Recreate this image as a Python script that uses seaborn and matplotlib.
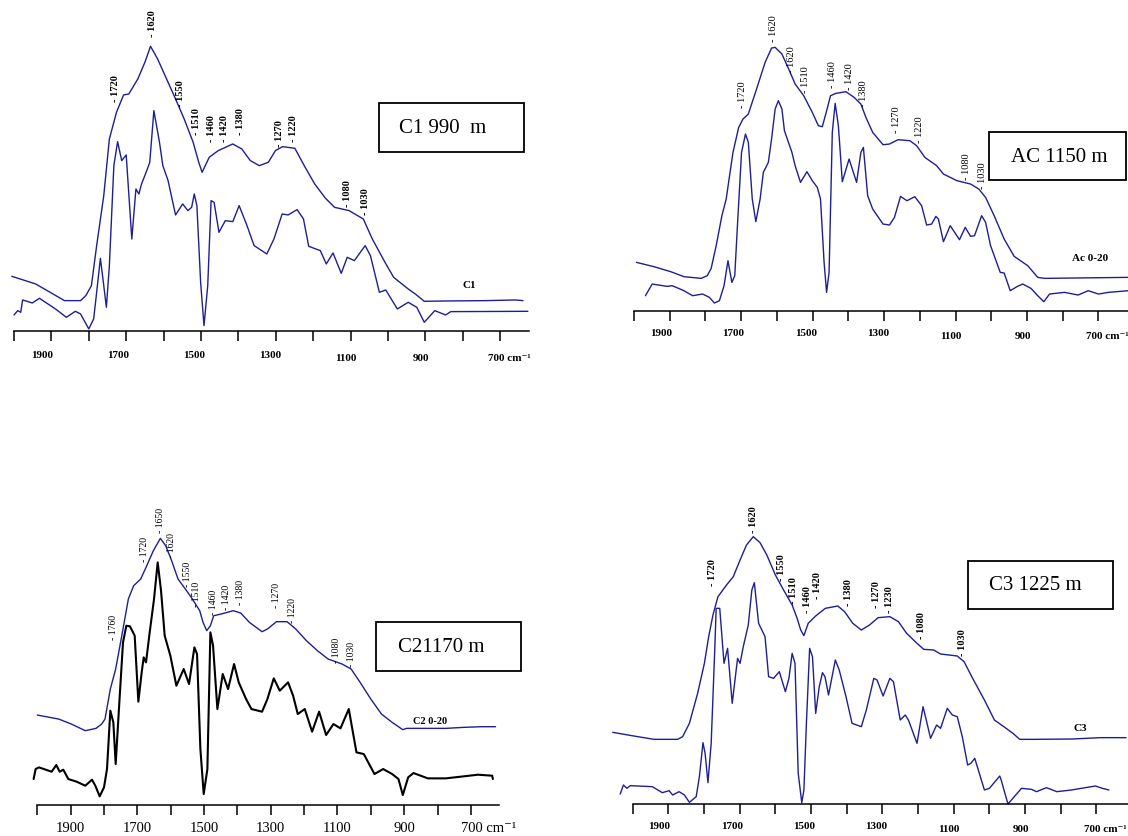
import matplotlib
matplotlib.use('Agg')
import matplotlib.pyplot as plt
from matplotlib.patches import Rectangle
from matplotlib.transforms import ScaledTranslation
import seaborn as sns

# FTIR spectra, intensity in arbitrary units (0 = baseline of each panel)

# ---- C1 990 m ----
c1_top_wn = [2006, 1942, 1865, 1822, 1808, 1793, 1779, 1760, 1745, 1726, 1707, 1693, 1669, 1650, 1635, 1616,
             1592, 1568, 1545, 1521, 1506, 1497, 1478, 1454, 1415, 1391, 1368, 1344, 1320, 1301, 1282, 1249,
             1224, 1196, 1167, 1143, 1104, 1066, 1042, 1008, 985, 946, 927, 903, 841, 740, 659, 639]
c1_top = [165, 142, 92, 92, 107, 137, 257, 407, 577, 657, 709, 712, 757, 807, 855, 817,
          757, 697, 637, 567, 507, 477, 522, 542, 562, 547, 512, 497, 507, 542, 554, 549,
          497, 442, 399, 372, 362, 337, 277, 207, 162, 127, 112, 90, 91, 92, 94, 92]
c1_low_wn = [2000, 1990, 1982, 1977, 1951, 1932, 1889, 1860, 1836, 1822, 1800, 1787, 1779, 1769, 1760, 1753,
             1745, 1733, 1723, 1712, 1700, 1685, 1674, 1666, 1659, 1645, 1637, 1626, 1611, 1602, 1588, 1568,
             1549, 1535, 1525, 1518, 1511, 1501, 1492, 1482, 1473, 1465, 1452, 1435, 1415, 1398, 1377, 1358,
             1324, 1305, 1283, 1267, 1243, 1226, 1212, 1181, 1165, 1147, 1125, 1109, 1090, 1061, 1047, 1023,
             1006, 975, 946, 923, 903, 875, 846, 832, 626]
c1_low = [49, 62, 57, 94, 85, 99, 67, 42, 60, 52, 7, 37, 117, 219, 137, 72,
          197, 497, 569, 512, 529, 277, 427, 412, 442, 482, 507, 662, 567, 497, 452, 349,
          382, 362, 372, 412, 377, 147, 17, 137, 392, 387, 297, 332, 329, 377, 317, 257,
          232, 277, 352, 349, 365, 337, 255, 242, 202, 235, 174, 222, 212, 257, 227, 117,
          124, 67, 87, 72, 27, 62, 49, 59, 60]
c1_marks = ['1720', '1620', '1550', '1510', '1460', '1420', '1380', '1270', '1220', '1080', '1030']
c1_mark_wn = [1729, 1631, 1554, 1513, 1473, 1436, 1394, 1291, 1253, 1109, 1061]
c1_mark_h = [692, 885, 675, 592, 572, 572, 592, 557, 572, 377, 352]

# ---- AC 1150 m ----
ac_top_wn = [1993, 1944, 1897, 1860, 1812, 1795, 1784, 1770, 1754, 1742, 1723, 1707, 1695, 1680, 1657, 1633,
             1615, 1605, 1586, 1567, 1549, 1525, 1501, 1484, 1473, 1462, 1450, 1435, 1407, 1384, 1365, 1351,
             1332, 1303, 1285, 1261, 1228, 1209, 1186, 1153, 1134, 1096, 1058, 1035, 1016, 992, 964, 936,
             898, 870, 851, 617]
ac_top = [145, 132, 117, 102, 97, 105, 127, 195, 285, 335, 475, 550, 575, 590, 665, 745,
          788, 790, 770, 725, 680, 645, 595, 555, 552, 595, 645, 652, 657, 640, 620, 580,
          535, 498, 500, 513, 510, 495, 460, 435, 410, 390, 380, 365, 340, 285, 215, 163,
          135, 100, 97, 100]
ac_low_wn = [1968, 1949, 1907, 1893, 1860, 1836, 1808, 1789, 1775, 1761, 1748, 1737, 1726, 1718, 1709, 1699,
             1688, 1680, 1669, 1659, 1647, 1638, 1624, 1615, 1605, 1596, 1586, 1579, 1558, 1549, 1534, 1516,
             1501, 1487, 1478, 1468, 1461, 1454, 1445, 1437, 1428, 1417, 1398, 1377, 1365, 1358, 1346, 1332,
             1303, 1285, 1271, 1254, 1236, 1214, 1195, 1181, 1167, 1155, 1148, 1134, 1115, 1089, 1073, 1058,
             1047, 1027, 1016, 1002, 975, 964, 947, 927, 912, 889, 870, 853, 837, 795, 757, 729,
             700, 672, 617]
ac_low = [45, 80, 73, 75, 60, 45, 50, 40, 23, 30, 75, 150, 85, 105, 285, 475,
          530, 505, 335, 267, 335, 415, 445, 515, 605, 630, 605, 540, 475, 435, 385, 417,
          390, 370, 335, 145, 55, 115, 535, 622, 555, 387, 455, 385, 475, 490, 345, 305,
          260, 257, 280, 343, 330, 342, 315, 257, 260, 283, 275, 207, 255, 213, 250, 223,
          225, 285, 265, 195, 115, 113, 60, 73, 80, 67, 45, 27, 50, 55, 47, 60,
          50, 55, 60]
ac_marks = ['1720', '1620', '1620', '1510', '1460', '1420', '1380', '1270', '1220', '1080', '1030']
ac_mark_wn = [1697, 1610, 1558, 1520, 1445, 1398, 1357, 1266, 1202, 1070, 1025]
ac_mark_h = [610, 810, 715, 655, 670, 665, 615, 535, 505, 395, 367]

# ---- C2 1170 m ----
c2_top_wn = [2000, 1936, 1898, 1856, 1824, 1807, 1797, 1781, 1765, 1743, 1727, 1711, 1690, 1674, 1652, 1631,
             1615, 1599, 1578, 1556, 1535, 1513, 1503, 1492, 1481, 1471, 1449, 1412, 1390, 1364, 1326, 1310,
             1283, 1251, 1225, 1193, 1160, 1128, 1086, 1059, 1032, 1000, 968, 936, 904, 893, 775, 722,
             668, 626]
c2_top = [269, 257, 242, 222, 229, 242, 257, 347, 407, 527, 617, 657, 677, 712, 762, 799,
          777, 737, 677, 647, 617, 582, 547, 522, 537, 567, 572, 582, 575, 547, 519, 527,
          549, 549, 527, 492, 462, 437, 422, 407, 367, 317, 272, 247, 225, 229, 229, 232,
          234, 234]
c2_low_wn = [2011, 2005, 1995, 1957, 1943, 1933, 1922, 1907, 1882, 1856, 1836, 1826, 1813, 1800, 1791, 1781,
             1772, 1765, 1754, 1743, 1733, 1722, 1708, 1697, 1687, 1681, 1674, 1663, 1650, 1639, 1629, 1618,
             1601, 1583, 1561, 1545, 1529, 1521, 1511, 1501, 1490, 1481, 1473, 1460, 1444, 1428, 1410, 1396,
             1374, 1358, 1326, 1310, 1291, 1273, 1248, 1233, 1219, 1198, 1176, 1155, 1134, 1112, 1091, 1066,
             1043, 1021, 989, 963, 936, 917, 904, 888, 872, 829, 775, 722, 679, 636, 634]
c2_low = [77, 107, 112, 99, 119, 99, 105, 77, 69, 57, 75, 57, 25, 52, 107, 282,
          247, 122, 307, 487, 537, 535, 507, 309, 397, 442, 427, 517, 617, 727, 642, 507,
          447, 357, 407, 362, 472, 452, 167, 32, 107, 517, 477, 287, 392, 347, 422, 367,
          317, 287, 279, 317, 379, 342, 367, 327, 272, 287, 219, 279, 209, 242, 229, 287,
          157, 152, 92, 107, 92, 77, 29, 82, 95, 79, 79, 85, 90, 87, 77]
c2_marks = ['1760', '1720', '1650', '1620', '1550', '1510', '1460', '1420', '1380', '1270', '1220', '1080', '1030']
c2_mark_wn = [1772, 1679, 1631, 1597, 1551, 1524, 1471, 1433, 1390, 1283, 1235, 1104, 1059]
c2_mark_h = [497, 732, 819, 742, 657, 597, 572, 587, 602, 592, 547, 427, 417]

# ---- C3 1225 m ----
c3_top_wn = [2056, 1997, 1940, 1874, 1860, 1841, 1818, 1799, 1787, 1775, 1761, 1737, 1718, 1699, 1681, 1662,
             1643, 1624, 1600, 1577, 1553, 1539, 1529, 1520, 1508, 1487, 1460, 1425, 1406, 1383, 1359, 1336,
             1312, 1279, 1255, 1232, 1203, 1184, 1156, 1137, 1090, 1071, 1047, 1014, 986, 957, 934, 915,
             872, 766, 690, 617]
c3_top = [215, 204, 194, 194, 202, 242, 332, 422, 502, 567, 622, 657, 682, 732, 777, 802,
          784, 747, 687, 642, 597, 557, 522, 505, 542, 564, 587, 594, 577, 542, 522, 537,
          559, 562, 547, 512, 482, 464, 462, 450, 444, 427, 377, 312, 252, 230, 212, 194,
          194, 195, 199, 199]
c3_low_wn = [2035, 2026, 2016, 2007, 1945, 1917, 1898, 1888, 1870, 1855, 1841, 1822, 1813, 1803, 1797, 1789,
             1780, 1770, 1766, 1756, 1744, 1734, 1721, 1706, 1699, 1690, 1676, 1666, 1659, 1647, 1629, 1619,
             1605, 1589, 1572, 1562, 1553, 1545, 1536, 1526, 1520, 1513, 1504, 1496, 1487, 1477, 1468, 1461,
             1451, 1432, 1421, 1402, 1385, 1359, 1345, 1324, 1315, 1298, 1279, 1269, 1250, 1236, 1227, 1203,
             1186, 1177, 1165, 1148, 1137, 1118, 1104, 1090, 1076, 1061, 1052, 1041, 1014, 1000, 971, 967,
             948, 910, 882, 868, 840, 811, 770, 703, 683, 665]
c3_low = [30, 57, 47, 55, 52, 34, 40, 27, 37, 27, 5, 22, 82, 184, 152, 64,
          182, 462, 587, 587, 422, 467, 302, 437, 422, 472, 537, 642, 664, 542, 502, 382,
          377, 397, 337, 377, 452, 422, 92, 4, 42, 242, 467, 442, 272, 352, 394, 382,
          327, 432, 402, 322, 242, 232, 282, 377, 372, 324, 377, 367, 252, 267, 252, 182,
          292, 252, 197, 237, 227, 287, 267, 262, 202, 117, 122, 137, 42, 47, 84, 72,
          0, 47, 44, 37, 49, 37, 42, 54, 47, 42]
c3_marks = ['1720', '1620', '1550', '1510', '1460', '1420', '1380', '1270', '1230', '1080', '1030']
c3_mark_wn = [1775, 1662, 1584, 1548, 1510, 1482, 1394, 1317, 1279, 1189, 1076]
c3_mark_h = [657, 817, 672, 602, 577, 617, 597, 592, 577, 497, 447]

tick_wn = list(range(2000, 600, -100))
label_wn = [1900, 1700, 1500, 1300, 1100, 900, 700]

sns.set_theme(style='white')
plt.rcParams['font.family'] = ['Liberation Serif', 'DejaVu Serif']

navy = '#1e1e96'
W, H = 1128, 837
fig = plt.figure(figsize=(W / 100, H / 100), dpi=100)
fig.patch.set_facecolor('white')

panels = [
    dict(top=(c1_top_wn, c1_top), low=(c1_low_wn, c1_low), low_color=navy, low_lw=1.0,
         marks=(c1_marks, c1_mark_wn, c1_mark_h), mark_fs=7.5, weight='bold',
         name='C1 990  m', name_at=(443, 128.5), box=(379.4, 104, 524.4, 153),
         trace='C1', trace_at=(783, 139), trace_fs=8,
         x0=14, s=0.374, wn_hi=2010, wn_lo=620, end=623, y_axis=332.3,
         tick_fs=8, shift=True, dy=(23, 26), left700=12),
    dict(top=(ac_top_wn, ac_top), low=(ac_low_wn, ac_low), low_color=navy, low_lw=1.0,
         marks=(ac_marks, ac_mark_wn, ac_mark_h), mark_fs=7.5, weight='normal',
         name='AC 1150 m', name_at=(1059, 157), box=(989, 132.7, 1126, 181),
         trace='Ac 0-20', trace_at=(724, 161), trace_fs=8,
         x0=634, s=0.3573, wn_hi=2005, wn_lo=617.4, end=617.4, y_axis=311.7,
         tick_fs=8, shift=True, dy=(22, 25), left700=12),
    dict(top=(c2_top_wn, c2_top), low=(c2_low_wn, c2_low), low_color='black', low_lw=1.5,
         marks=(c2_marks, c2_mark_wn, c2_mark_h), mark_fs=7, weight='normal',
         name='C21170 m', name_at=(441, 647), box=(376, 622.7, 520.5, 671.7),
         trace='C2 0-20', trace_at=(822, 254), trace_fs=7.5,
         x0=37.3, s=0.3335, wn_hi=2015, wn_lo=615, end=616, y_axis=805.7,
         tick_fs=10.5, shift=False, dy=(22.5, 22.5), left700=10),
    dict(top=(c3_top_wn, c3_top), low=(c3_low_wn, c3_low), low_color=navy, low_lw=1.0,
         marks=(c3_marks, c3_mark_wn, c3_mark_h), mark_fs=7.5, weight='bold',
         name='C3 1225 m', name_at=(1035, 586), box=(967.5, 561.7, 1112.5, 610),
         trace='C3', trace_at=(745, 229), trace_fs=8,
         x0=632.7, s=0.3567, wn_hi=2060, wn_lo=611.4, end=611.4, y_axis=805,
         tick_fs=8, shift=True, dy=(22, 25), left700=12),
]

for p in panels:
    y_top = p['y_axis'] - 320
    left = p['x0'] - (p['wn_hi'] - 2000) * p['s']
    right = p['x0'] + (2000 - p['wn_lo']) * p['s']
    ax = fig.add_axes([left / W, 1 - p['y_axis'] / H, (right - left) / W, (p['y_axis'] - y_top) / H])
    ax.patch.set_alpha(0)

    sns.lineplot(x=p['top'][0], y=p['top'][1], ax=ax, color=navy, linewidth=1.0,
                 sort=False, estimator=None)
    sns.lineplot(x=p['low'][0], y=p['low'][1], ax=ax, color=p['low_color'], linewidth=p['low_lw'],
                 sort=False, estimator=None)
    for ln in ax.lines:
        ln.set_clip_on(False)

    ax.set_xlim(p['wn_hi'], p['wn_lo'])
    ax.set_ylim(0, 3 * (p['y_axis'] - y_top))
    ax.set_xlabel('')
    ax.set_ylabel('')
    ax.set_yticks([])
    ax.set_xticks(tick_wn)
    ax.set_xticklabels([])
    ax.tick_params(axis='x', bottom=True, direction='out', length=7, width=1.1, color='black')
    for side in ['top', 'left', 'right']:
        ax.spines[side].set_visible(False)
    ax.spines['bottom'].set_bounds(2000, p['end'])
    ax.spines['bottom'].set_linewidth(1.1)
    ax.spines['bottom'].set_color('black')

    # peak marks
    for lab, wn, h in zip(*p['marks']):
        ax.text(wn, h, '- ' + lab, rotation=90, ha='center', va='bottom',
                fontsize=p['mark_fs'], fontweight=p['weight'], color='black')

    # tick labels
    tw = 'normal' if not p['shift'] else 'bold'
    for wn in label_wn:
        dy = p['dy'][0] if wn > 1100 else p['dy'][1]
        if wn == 700:
            dx, ha, txt = -p['left700'], 'left', '700 cm⁻¹'
        else:
            dx = -9 + (1900 - wn) / 1200 * 6 if p['shift'] else 0
            ha, txt = 'center', str(wn)
        tr = ax.get_xaxis_transform() + ScaledTranslation(dx / 100, -dy / 100, fig.dpi_scale_trans)
        ax.text(wn, 0, txt, transform=tr, ha=ha, va='center', fontsize=p['tick_fs'],
                fontweight=tw, color='black')

    ax.text(p['trace_at'][0], p['trace_at'][1], p['trace'], ha='center', va='center',
            fontsize=p['trace_fs'], fontweight='bold', color='black')

    x1, y1, x2, y2 = p['box']
    fig.add_artist(Rectangle((x1 / W, 1 - y2 / H), (x2 - x1) / W, (y2 - y1) / H,
                             transform=fig.transFigure, fill=False, ec='black', lw=1.3))
    fig.text(p['name_at'][0] / W, 1 - p['name_at'][1] / H, p['name'], ha='center', va='center',
             fontsize=15, color='black')

fig.savefig('out.png', dpi=100, facecolor='white')
